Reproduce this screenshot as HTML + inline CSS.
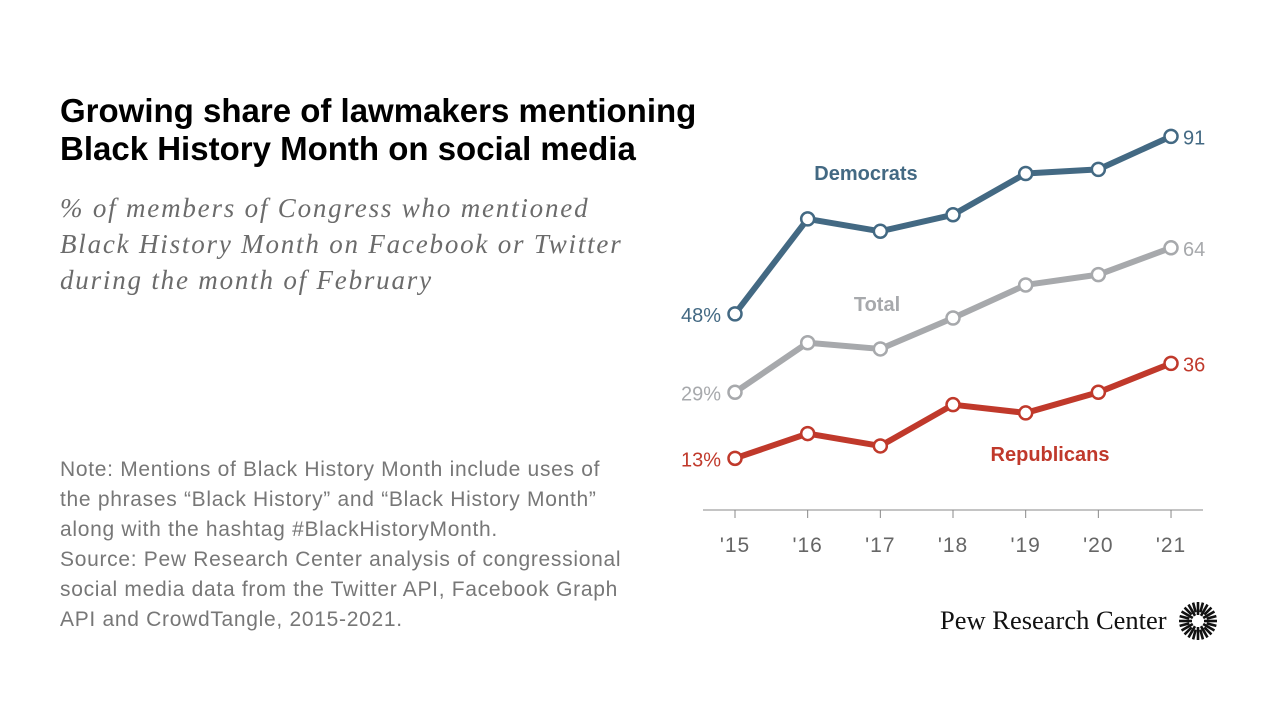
<!DOCTYPE html>
<html><head><meta charset="utf-8"><style>
body{margin:0;width:1280px;height:720px;background:#fff;font-family:"Liberation Sans",Arial,sans-serif;overflow:hidden;position:relative}
.title{position:absolute;left:60px;top:92px;font-size:33px;font-weight:bold;color:#000;line-height:38px;letter-spacing:0px}
.sub{position:absolute;left:60px;top:190px;font-family:"Liberation Serif",serif;font-style:italic;font-size:27px;line-height:36px;color:#6b6b6b;letter-spacing:1.8px}
.note{position:absolute;left:60px;top:455px;font-size:21px;line-height:30px;color:#777;letter-spacing:0.7px}
.logo{position:absolute;left:940px;top:605px;font-family:"Liberation Serif",serif;font-size:26.5px;color:#111}
</style></head><body>
<div class="title">Growing share of lawmakers mentioning<br>Black History Month on social media</div>
<div class="sub">% of members of Congress who mentioned<br>Black History Month on Facebook or Twitter<br>during the month of February</div>
<div class="note">Note: Mentions of Black History Month include uses of<br>the phrases “Black History” and “Black History Month”<br>along with the hashtag #BlackHistoryMonth.<br>Source: Pew Research Center analysis of congressional<br>social media data from the Twitter API, Facebook Graph<br>API and CrowdTangle, 2015-2021.</div>
<div class="logo">Pew Research Center</div>
<svg width="40" height="40" style="position:absolute;left:1178px;top:601px" id="logoicon"></svg>
<svg id="chart" width="1280" height="720" style="position:absolute;left:0;top:0"></svg>
<script>
const years=["'15","'16","'17","'18","'19","'20","'21"];
const dem=[48,71,68,72,82,83,91];
const tot=[29,41,39.5,47,55,57.5,64];
const rep=[13,19,16,26,24,29,36];
const NS="http://www.w3.org/2000/svg";
const svg=document.getElementById('chart');
const x=i=>735+i*72.67;
const y=v=>512-v*4.128;
function mk(t,a,p){const e=document.createElementNS(NS,t);for(const k in a)e.setAttribute(k,a[k]);(p||svg).appendChild(e);return e;}
const ax=mk('line',{x1:703,x2:1203,y1:510,y2:510,stroke:'#888','stroke-width':1});


years.forEach((yr,i)=>{
 const t=mk('line',{x1:x(i),x2:x(i),y1:510,y2:518,stroke:'#888'});
 
 
 const l=mk('text',{x:x(i),y:552,'text-anchor':'middle','font-size':21,fill:'#666','letter-spacing':1});l.textContent=yr;
 
 
});
function series(d,c,name,first,last){
 const pl=mk('polyline',{points:d.map((v,i)=>x(i)+','+y(v)).join(' '),fill:'none',stroke:c,'stroke-width':6,'stroke-linejoin':'round'});
 
 
 d.forEach((v,i)=>{const p=mk('circle',{cx:x(i),cy:y(v),r:6.5,fill:'#fff',stroke:c,'stroke-width':2.5});
 
 });
 const a=mk('text',{x:x(0)-14,y:y(d[0])+8,'text-anchor':'end','font-size':20,fill:c});a.textContent=d[0]+first;
 
 
 const b=mk('text',{x:x(6)+12,y:y(d[6])+8,'font-size':20,fill:c});b.textContent=d[6]+last;
 
 
}
series(tot,'#a7a9ac','total','%','');
series(rep,'#c0392b','republicans','%','');
series(dem,'#436983','democrats','%','');
function lab(txt,xx,yy,c,n){const t=mk('text',{x:xx,y:yy,'text-anchor':'middle','font-size':20,'font-weight':'bold',fill:c});t.textContent=txt;
 
 }
lab('Democrats',866,180,'#436983','democrats-label');
lab('Total',877,311,'#a7a9ac','total-label');
lab('Republicans',1050,461,'#c0392b','republicans-label');
const li=document.getElementById('logoicon');
for(let k=0;k<24;k++){const an=k*Math.PI/12;const r1=k%2?9:6;const l=mk('line',{x1:20+r1*Math.cos(an),y1:20+r1*Math.sin(an),x2:20+19*Math.cos(an),y2:20+19*Math.sin(an),stroke:'#111','stroke-width':2.6},li);
 
 }
</script>
</body></html>
